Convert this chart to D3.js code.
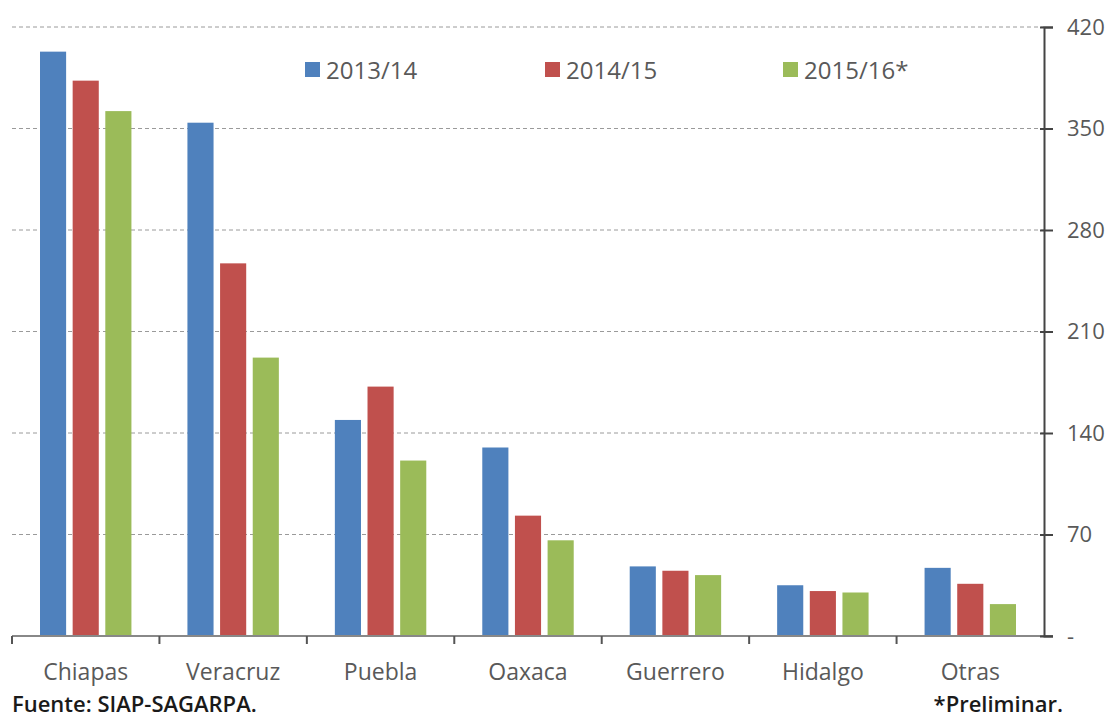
<!DOCTYPE html>
<html>
<head>
<meta charset="utf-8">
<script src="https://cdn.jsdelivr.net/npm/d3@7"></script>
<style>
  body { margin: 0; background: white; }
  svg { font-family: "Open Sans", sans-serif; }
</style>
</head>
<body>
<div id="chart"></div>
<script>
const width = 1120
const height = 721
const margin = { top: 27, right: 76, bottom: 85, left: 12 }

const categories = ["Chiapas", "Veracruz", "Puebla", "Oaxaca", "Guerrero", "Hidalgo", "Otras"]
const seriesNames = ["2013/14", "2014/15", "2015/16*"]
const colors = ["#4f81bd", "#c0504d", "#9bbb59"]
const v2013 = [403, 354, 149, 130, 48, 35, 47]
const v2014 = [383, 257, 172, 83, 45, 31, 36]
const v2015 = [362, 192, 121, 66, 42, 30, 22]
const tickValues = [0, 70, 140, 210, 280, 350, 420]

const series = [v2013, v2014, v2015]
const innerW = width - margin.left - margin.right
const innerH = height - margin.top - margin.bottom

const svg = d3.select("#chart").append("svg")
  .attr("width", width)
  .attr("height", height)

const g = svg.append("g").attr("transform", `translate(${margin.left},${margin.top})`)

const x = d3.scaleBand().domain(categories).range([0, innerW]).paddingInner(0).paddingOuter(0)
const xSub = d3.scaleBand().domain(seriesNames).range([28, x.bandwidth() - 28]).paddingInner(0.2)
const y = d3.scaleLinear([0, 420], [innerH, 0])

// grid
g.append("g")
  .selectAll("line")
  .data(tickValues.filter(d => d > 0))
  .enter()
  .append("line")
  .attr("x1", 0)
  .attr("x2", innerW)
  .attr("y1", d => y(d))
  .attr("y2", d => y(d))
  .style("stroke", "#9a9a9a")
  .style("stroke-width", "1px")
  .style("stroke-dasharray", "4,3")

// bars
seriesNames.forEach((s, si) => {
  g.append("g")
    .selectAll("rect")
    .data(series[si])
    .enter()
    .append("rect")
    .attr("x", (d, i) => x(categories[i]) + xSub(s))
    .attr("y", d => y(d))
    .attr("width", xSub.bandwidth())
    .attr("height", d => innerH - y(d))
    .style("fill", colors[si])
})

// x axis
const xAxis = g.append("g").attr("transform", `translate(0,${innerH})`)
xAxis.append("line")
  .attr("x1", 0).attr("x2", innerW + 9)
  .attr("y1", 0).attr("y2", 0)
  .style("stroke", "#888").style("stroke-width", "2px")
xAxis.selectAll("line.tick")
  .data(categories)
  .enter()
  .append("line")
  .attr("class", "tick")
  .attr("x1", d => x(d)).attr("x2", d => x(d))
  .attr("y1", 0).attr("y2", 8)
  .style("stroke", "#555").style("stroke-width", "2px")
xAxis.selectAll("text")
  .data(categories)
  .enter()
  .append("text")
  .attr("x", d => x(d) + x.bandwidth() / 2)
  .attr("y", 44)
  .attr("text-anchor", "middle")
  .style("font-size", "23px")
  .style("fill", "#595959")
  .text(d => d)

// right y axis
const yAxis = d3.axisRight(y)
  .tickValues(tickValues)
  .tickSize(9)
  .tickPadding(14)
  .tickFormat(d => d === 0 ? "-" : d)
const ya = g.append("g")
  .attr("transform", `translate(${innerW},0)`)
  .call(yAxis)
ya.select(".domain").style("stroke", "#444").style("stroke-width", "2px")
ya.selectAll(".tick line").style("stroke", "#444").style("stroke-width", "2px").attr("x1", -4)
ya.selectAll(".tick text")
  .style("font-size", "22px")
  .style("fill", "#595959")
  .style("font-family", "'Open Sans', sans-serif")

// legend
const legendX = [305, 545, 783]
const legend = svg.append("g")
seriesNames.forEach((s, i) => {
  legend.append("rect")
    .attr("x", legendX[i]).attr("y", 62)
    .attr("width", 15).attr("height", 15)
    .style("fill", colors[i])
  legend.append("text")
    .attr("x", legendX[i] + 21).attr("y", 79)
    .style("font-size", "24px")
    .style("fill", "#595959")
    .text(s)
})

// footer
svg.append("text")
  .attr("x", 12).attr("y", 712)
  .style("font-size", "22px")
  .style("font-weight", "600")
  .style("fill", "#1a1a1a")
  .text("Fuente: SIAP-SAGARPA.")
svg.append("text")
  .attr("x", 1063).attr("y", 712)
  .attr("text-anchor", "end")
  .style("font-size", "22px")
  .style("font-weight", "600")
  .style("fill", "#1a1a1a")
  .text("*Preliminar.")
</script>
</body>
</html>
